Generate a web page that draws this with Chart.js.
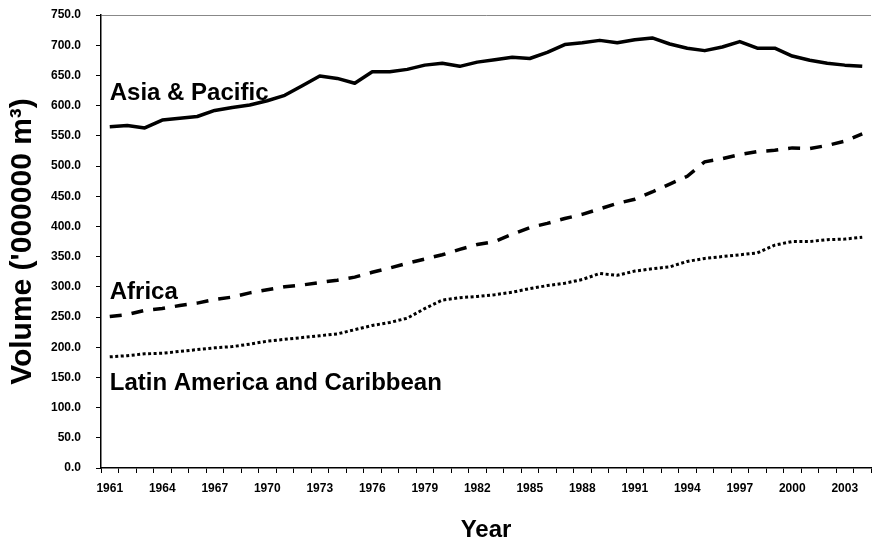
<!DOCTYPE html>
<html>
<head>
<meta charset="utf-8">
<script src="https://cdn.jsdelivr.net/npm/chart.js@4.4.1/dist/chart.umd.min.js"></script>
<style>
  html, body { margin: 0; padding: 0; background: #fff; }
  #wrap { width: 872px; height: 542px; }
</style>
</head>
<body>
<div id="wrap"><canvas id="c" width="872" height="542"></canvas></div>
<script>
const years = ['1961','1962','1963','1964','1965','1966','1967','1968','1969','1970',
  '1971','1972','1973','1974','1975','1976','1977','1978','1979','1980',
  '1981','1982','1983','1984','1985','1986','1987','1988','1989','1990',
  '1991','1992','1993','1994','1995','1996','1997','1998','1999','2000',
  '2001','2002','2003','2004'];

const asiaPacific = [565,567,563,576,579,582,592,597,601,608,
  617,633,649,645,637,656,656,660,667,670,
  665,672,676,680,678,688,701,704,708,704,
  709,712,702,695,691,697,706,695,695,682,
  675,670,667,665];

const africa = [251,254,261,264,269,273,279,283,290,295,
  300,303,307,311,316,324,331,339,346,353,
  362,370,375,387,398,405,413,420,429,438,
  445,457,470,483,507,512,519,524,526,530,
  529,534,541,553];

const latinAmerica = [184,186,189,190,193,196,199,201,205,210,
  213,216,219,222,229,236,241,248,264,278,
  282,284,287,291,297,302,306,312,322,319,
  326,330,333,342,347,350,353,356,369,375,
  375,378,379,382];

const seriesNames = ['Asia & Pacific', 'Africa', 'Latin America and Caribbean'];
const yTickStep = 50;
const yMax = 750;

// label anchor values (value-axis units), for the in-chart series names
const labelAnchors = [609, 280, 129];

const FONT = '"Liberation Sans", Arial, sans-serif';

const seriesLabels = {
  id: 'seriesLabels',
  afterDatasetsDraw(chart) {
    const {ctx, scales: {x, y}} = chart;
    ctx.save();
    ctx.fillStyle = '#000';
    ctx.font = 'bold 24px ' + FONT;
    ctx.textAlign = 'left';
    ctx.textBaseline = 'alphabetic';
    const x0 = x.getPixelForValue(0);
    seriesNames.forEach((n, i) => {
      ctx.fillText(n, x0, y.getPixelForValue(labelAnchors[i]));
    });
    ctx.restore();
  }
};

new Chart(document.getElementById('c'), {
  type: 'line',
  data: {
    labels: years,
    datasets: [
      { label: seriesNames[0], data: asiaPacific, borderColor: '#000', borderWidth: 3.5,
        pointRadius: 0, tension: 0, fill: false, borderCapStyle: 'butt', borderJoinStyle: 'round' },
      { label: seriesNames[1], data: africa, borderColor: '#000', borderWidth: 3.5,
        borderDash: [12, 10], pointRadius: 0, tension: 0, fill: false, borderCapStyle: 'butt' },
      { label: seriesNames[2], data: latinAmerica, borderColor: '#000', borderWidth: 3,
        borderDash: [3, 2.5], pointRadius: 0, tension: 0, fill: false, borderCapStyle: 'butt' }
    ]
  },
  options: {
    responsive: false,
    animation: false,
    devicePixelRatio: 1,
    layout: { padding: { top: 15, right: 1, left: 0, bottom: 0 } },
    plugins: { legend: { display: false }, tooltip: { enabled: false } },
    scales: {
      x: {
        type: 'category',
        offset: true,
        grid: { offset: true, drawOnChartArea: false, tickLength: 5, tickColor: '#000', tickWidth: 1 },
        border: { color: '#000', width: 1.5 },
        ticks: {
          autoSkip: false, maxRotation: 0, minRotation: 0, padding: 8,
          color: '#000', font: { family: FONT, size: 12, weight: 'bold' },
          callback: function(v, i) { return i % 3 === 0 ? this.getLabelForValue(v) : ''; }
        },
        title: { display: true, text: 'Year', color: '#000',
          font: { family: FONT, size: 24, weight: 'bold', lineHeight: 1 },
          padding: { top: 0, bottom: 0 } },
        afterFit(scale) { scale.height = 74; scale.paddingLeft = 0; scale.paddingRight = 0; }
      },
      y: {
        min: 0, max: yMax,
        grid: {
          color: (c) => c.tick && c.tick.value === yMax ? '#888' : 'rgba(0,0,0,0)',
          tickColor: '#000', tickLength: 5, tickWidth: 1
        },
        border: { color: '#000', width: 1.5 },
        ticks: {
          stepSize: yTickStep, padding: 15, color: '#000',
          font: { family: FONT, size: 12, weight: 'bold' },
          callback: (v) => Number(v).toFixed(1)
        },
        title: { display: true, text: "Volume ('000000 m\u00B3)", color: '#000',
          font: { family: FONT, size: 30, weight: 'bold', lineHeight: 1 },
          padding: { top: 8, bottom: 0 } },
        afterFit(scale) { scale.width = 101; scale.paddingTop = 0; scale.paddingBottom = 0; }
      }
    }
  },
  plugins: [seriesLabels]
});
</script>
</body>
</html>
